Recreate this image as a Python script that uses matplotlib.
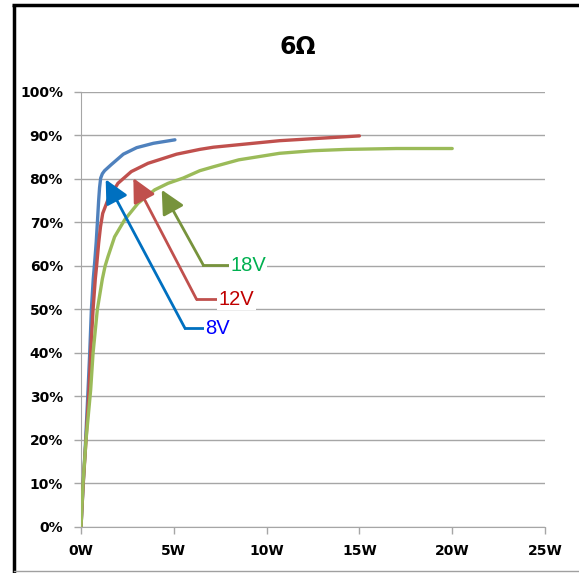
import matplotlib.pyplot as plt
from matplotlib.lines import Line2D
from matplotlib.ticker import FuncFormatter, MultipleLocator

# efficiency curves (W, %)
p_8v = [0, 0.12, 0.25, 0.38, 0.47, 0.56, 0.66, 0.74, 0.82, 0.89, 0.95, 1.0, 1.06, 1.15, 1.27, 1.63, 2.28, 3.0, 3.9, 5.06]
e_8v = [0, 10, 20, 31.5, 40, 50, 57, 61, 65.5, 70.5, 75, 78, 80.2, 81.2, 81.9, 83.3, 85.7, 87.2, 88.2, 89.0]

p_12v = [0, 0.12, 0.27, 0.43, 0.52, 0.65, 0.77, 0.84, 0.95, 1.05, 1.17, 1.45, 1.99, 2.71, 3.61, 5.15, 6.4, 7.13, 10.7, 15.0]
e_12v = [0, 10, 20, 31.5, 40, 50, 57, 60, 65.2, 69, 72.1, 75.2, 79.0, 81.7, 83.6, 85.7, 86.8, 87.3, 88.8, 89.9]

p_18v = [0, 0.11, 0.27, 0.52, 0.65, 0.88, 1.15, 1.3, 1.45, 1.81, 2.35, 3.07, 3.97, 4.69, 5.5, 6.4, 7.13, 8.5, 10.7, 12.5, 14.3, 17.0, 20.0]
e_18v = [0, 10, 20, 31.5, 40, 50, 57, 60, 62.1, 66.7, 70.6, 74.4, 77.5, 79.0, 80.2, 81.9, 82.8, 84.4, 85.9, 86.5, 86.8, 87.0, 87.0]

labels = ['8V', '12V', '18V']
line_colors = ['#4f81bd', '#c0504d', '#9bbb59']
arrow_colors = ['#0070c0', '#c0504d', '#77933c']
text_colors = ['#0000ff', '#c00000', '#00b050']
# (tip, elbow, end of horizontal) for each callout
callouts = [
    ((1.33, 79.9), (5.60, 45.7), (6.57, 45.7)),
    ((2.82, 80.2), (6.23, 52.3), (7.31, 52.3)),
    ((4.35, 77.5), (6.59, 60.2), (7.92, 60.2)),
]

fig = plt.figure(figsize=(5.79, 5.73), dpi=100)
ax = fig.add_axes([0.1399, 0.0803, 0.8014, 0.7592])

for px, ey, c in zip([p_8v, p_12v, p_18v], [e_8v, e_12v, e_18v], line_colors):
    ax.plot(px, ey, color=c, lw=2.4, solid_capstyle='round', solid_joinstyle='round', zorder=3)

for (tip, elbow, end), lab, ac, tc in zip(callouts, labels, arrow_colors, text_colors):
    ax.plot([end[0], elbow[0]], [end[1], elbow[1]], color=ac, lw=2, zorder=4)
    ax.annotate('', xy=tip, xytext=elbow,
                arrowprops=dict(arrowstyle='-|>,head_length=0.9,head_width=0.45',
                                color=ac, lw=2, shrinkA=0, shrinkB=0, mutation_scale=16),
                zorder=4)
    ax.text(end[0] + 0.12, end[1], lab, color=tc, fontsize=14.5, family='Liberation Sans',
            va='center', ha='left', zorder=5,
            bbox=dict(facecolor='white', edgecolor='none', pad=1))

ax.set_xlim(0, 25)
ax.set_ylim(0, 100)
ax.xaxis.set_major_locator(MultipleLocator(5))
ax.yaxis.set_major_locator(MultipleLocator(10))
ax.xaxis.set_major_formatter(FuncFormatter(lambda v, _: f'{v:.0f}W'))
ax.yaxis.set_major_formatter(FuncFormatter(lambda v, _: f'{v:.0f}%'))
ax.grid(axis='y', color='#a6a6a6', lw=1)
ax.set_axisbelow(True)
for s in ['top', 'right']:
    ax.spines[s].set_visible(False)
ax.spines['left'].set_color('#a6a6a6')
ax.spines['bottom'].set_color('#a6a6a6')
ax.tick_params(axis='both', colors='#a6a6a6', labelcolor='black', length=5, width=1)
ax.tick_params(axis='y', pad=8)
ax.tick_params(axis='x', pad=7)
for t in ax.get_xticklabels() + ax.get_yticklabels():
    t.set_fontweight('bold')
    t.set_fontsize(10)

fig.text(0.515, 0.918, '6Ω', ha='center', va='center', fontsize=17, fontweight='bold')

# outer frame
fig.add_artist(Line2D([13.5 / 579, 13.5 / 579], [0, 1 - 4.5 / 573], color='black', lw=2.5,
                      solid_capstyle='butt'))
fig.add_artist(Line2D([12 / 579, 1], [1 - 4.5 / 573, 1 - 4.5 / 573], color='black', lw=2.5,
                      solid_capstyle='butt'))
fig.add_artist(Line2D([13.5 / 579, 1], [2 / 573, 2 / 573], color='#a0a0a0', lw=1))

fig.savefig('out.png', dpi=100)
